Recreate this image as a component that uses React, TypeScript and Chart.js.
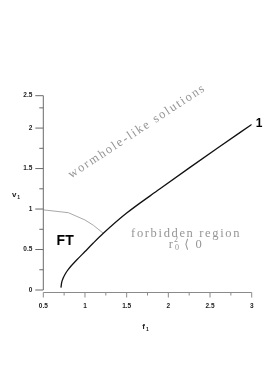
import React, { useEffect, useRef } from "react";
import { Chart, registerables } from "chart.js";

Chart.register(...registerables);

// Curve "1" (black)
const curve1F = [0.712, 0.72, 0.74, 0.77, 0.8, 0.9, 1.0, 1.1, 1.22, 1.5, 1.9, 2.26, 2.6, 3.0];
const curve1V = [0.03, 0.09, 0.15, 0.21, 0.255, 0.37, 0.475, 0.58, 0.70, 0.95, 1.25, 1.515, 1.76, 2.045];

// FT boundary (gray)
const grayF = [0.5, 0.8, 1.0, 1.1, 1.22];
const grayV = [0.99, 0.955, 0.865, 0.8, 0.70];

// Axis ticks
const xMajorTicks = [0.5, 1, 1.5, 2, 2.5, 3];
const xMajorLabels = ["0.5", "1", "1.5", "2", "2.5", "3"];
const xMinorTicks = [0.75, 1.25, 1.75, 2.25, 2.75];
const yMajorTicks = [0, 0.5, 1, 1.5, 2, 2.4];
const yMajorLabels = ["0", "0.5", "1", "1.5", "2", "2.5"];
const yMinorTicks = [0.25, 0.75, 1.25, 1.75, 2.25];

const xMin = 0.5;
const xMax = 3;
const yMin = 0;
const yMax = 2.4;

export default function App() {
  const canvasRef = useRef<HTMLCanvasElement | null>(null);

  useEffect(() => {
    const canvas = canvasRef.current;
    if (!canvas) return;

    const fitText = (ctx: any, text: string, target: number) => {
      ctx.letterSpacing = "0px";
      const w = ctx.measureText(text).width;
      const ls = (target - w) / text.length;
      ctx.letterSpacing = ls + "px";
      return ls;
    };

    const decor = {
      id: "decor",
      afterDraw(chart: any) {
        const ctx = chart.ctx as any;
        const xs = chart.scales.x;
        const ys = chart.scales.y;
        const left = xs.left;
        const right = xs.right;
        const top = ys.top;
        const bottom = ys.bottom;
        const xAxisY = bottom + 2.5;
        ctx.save();

        // y axis
        ctx.strokeStyle = "#6a6a6a";
        ctx.lineWidth = 1;
        ctx.beginPath();
        ctx.moveTo(left, top);
        ctx.lineTo(left, bottom);
        ctx.stroke();
        yMajorTicks.forEach((v) => {
          const py = ys.getPixelForValue(v);
          ctx.beginPath();
          ctx.moveTo(left - 8, py);
          ctx.lineTo(left, py);
          ctx.stroke();
        });
        yMinorTicks.forEach((v) => {
          const py = ys.getPixelForValue(v);
          ctx.beginPath();
          ctx.moveTo(left - 4, py);
          ctx.lineTo(left, py);
          ctx.stroke();
        });

        // x axis
        ctx.strokeStyle = "#8a8a8a";
        ctx.beginPath();
        ctx.moveTo(left, xAxisY);
        ctx.lineTo(right, xAxisY);
        ctx.stroke();
        xMajorTicks.forEach((v) => {
          const px = xs.getPixelForValue(v);
          ctx.beginPath();
          ctx.moveTo(px, xAxisY);
          ctx.lineTo(px, xAxisY + 5);
          ctx.stroke();
        });
        xMinorTicks.forEach((v) => {
          const px = xs.getPixelForValue(v);
          ctx.beginPath();
          ctx.moveTo(px, xAxisY);
          ctx.lineTo(px, xAxisY + 3);
          ctx.stroke();
        });

        // tick labels
        ctx.fillStyle = "#222";
        ctx.font = "bold 6.5px 'Liberation Sans', Arial, sans-serif";
        ctx.textBaseline = "middle";
        ctx.textAlign = "right";
        yMajorTicks.forEach((v, i) => {
          ctx.fillText(yMajorLabels[i], left - 11, ys.getPixelForValue(v));
        });
        ctx.textAlign = "center";
        xMajorTicks.forEach((v, i) => {
          ctx.fillText(xMajorLabels[i], xs.getPixelForValue(v), xAxisY + 14);
        });

        // axis titles
        const drawSub = (main: string, sub: string, cx: number, cy: number) => {
          ctx.font = "bold 8px 'Liberation Sans', Arial, sans-serif";
          const w1 = ctx.measureText(main).width;
          ctx.font = "bold 5px 'Liberation Sans', Arial, sans-serif";
          const w2 = ctx.measureText(sub).width;
          const sx = cx - (w1 + w2 + 1) / 2;
          ctx.textAlign = "left";
          ctx.textBaseline = "alphabetic";
          ctx.font = "bold 8px 'Liberation Sans', Arial, sans-serif";
          ctx.fillText(main, sx, cy + 3);
          ctx.font = "bold 5px 'Liberation Sans', Arial, sans-serif";
          ctx.fillText(sub, sx + w1 + 1, cy + 5);
        };
        ctx.fillStyle = "#222";
        drawSub("v", "1", 16, 194);
        drawSub("f", "1", (left + right) / 2 - 2, xAxisY + 33);

        // "1" label at end of curve
        ctx.fillStyle = "#000";
        ctx.font = "bold 12px 'Liberation Sans', Arial, sans-serif";
        ctx.textAlign = "left";
        ctx.textBaseline = "middle";
        ctx.fillText(
          "1",
          xs.getPixelForValue(curve1F[curve1F.length - 1]) + 4,
          ys.getPixelForValue(curve1V[curve1V.length - 1]) - 1
        );

        // FT
        ctx.font = "bold 14px 'Liberation Sans', Arial, sans-serif";
        ctx.textAlign = "center";
        ctx.fillText("FT", xs.getPixelForValue(0.762), ys.getPixelForValue(0.6));

        // wormhole-like solutions
        ctx.fillStyle = "#959595";
        ctx.font = "12.5px 'Liberation Serif', 'DejaVu Serif', serif";
        ctx.save();
        ctx.translate(xs.getPixelForValue(1.625), ys.getPixelForValue(1.96));
        ctx.rotate((-33.3 * Math.PI) / 180);
        ctx.textAlign = "left";
        ctx.textBaseline = "middle";
        const wText = "wormhole-like solutions";
        const wTarget = 162;
        fitText(ctx, wText, wTarget);
        ctx.fillText(wText, -wTarget / 2, 0);
        ctx.restore();

        // forbidden region
        const mainFont = "12.5px 'Liberation Serif', 'DejaVu Serif', serif";
        const smallFont = "8px 'Liberation Serif', 'DejaVu Serif', serif";
        ctx.font = mainFont;
        ctx.textAlign = "left";
        ctx.textBaseline = "middle";
        const fcx = xs.getPixelForValue(2.213);
        const fText = "forbidden region";
        const fTarget = 110;
        const ls = fitText(ctx, fText, fTarget);
        ctx.fillText(fText, fcx - fTarget / 2, ys.getPixelForValue(0.693));

        // r^2_0 < 0
        const ly = ys.getPixelForValue(0.557);
        const rest = " \u27E8 0";
        ctx.font = mainFont;
        ctx.letterSpacing = ls + "px";
        const wr = ctx.measureText("r").width;
        const wrest = ctx.measureText(rest).width;
        ctx.font = smallFont;
        ctx.letterSpacing = "0px";
        const ws = ctx.measureText("2").width;
        const total = wr + ws + 1 + wrest;
        let sx = fcx - total / 2;
        ctx.font = mainFont;
        ctx.letterSpacing = ls + "px";
        ctx.fillText("r", sx, ly);
        sx += wr;
        ctx.font = smallFont;
        ctx.letterSpacing = "0px";
        ctx.fillText("2", sx - 0.5, ly - 5);
        ctx.fillText("0", sx + 0.5, ly + 3.5);
        sx += ws + 1;
        ctx.font = mainFont;
        ctx.letterSpacing = ls + "px";
        ctx.fillText(rest, sx, ly);
        ctx.letterSpacing = "0px";

        ctx.restore();
      },
    };

    const chart = new Chart(canvas, {
      type: "line",
      data: {
        datasets: [
          {
            data: curve1F.map((f, i) => ({ x: f, y: curve1V[i] })),
            borderColor: "#111",
            borderWidth: 1.3,
            pointRadius: 0,
            cubicInterpolationMode: "monotone",
            fill: false,
          },
          {
            data: grayF.map((f, i) => ({ x: f, y: grayV[i] })),
            borderColor: "#a8a8a8",
            borderWidth: 1,
            pointRadius: 0,
            tension: 0,
            fill: false,
          },
        ],
      },
      options: {
        animation: false,
        responsive: false,
        events: [],
        layout: { padding: { left: 43.3, right: 21.3, top: 95.7, bottom: 92 } },
        plugins: { legend: { display: false }, tooltip: { enabled: false } },
        scales: {
          x: { type: "linear", min: xMin, max: xMax, display: false },
          y: { type: "linear", min: yMin, max: yMax, display: false },
        },
      },
      plugins: [decor],
    });

    return () => chart.destroy();
  }, []);

  return (
    <div style={{ position: "absolute", left: 0, top: 0, width: 273, height: 382, background: "#fff" }}>
      <canvas ref={canvasRef} width={273} height={382} />
    </div>
  );
}
